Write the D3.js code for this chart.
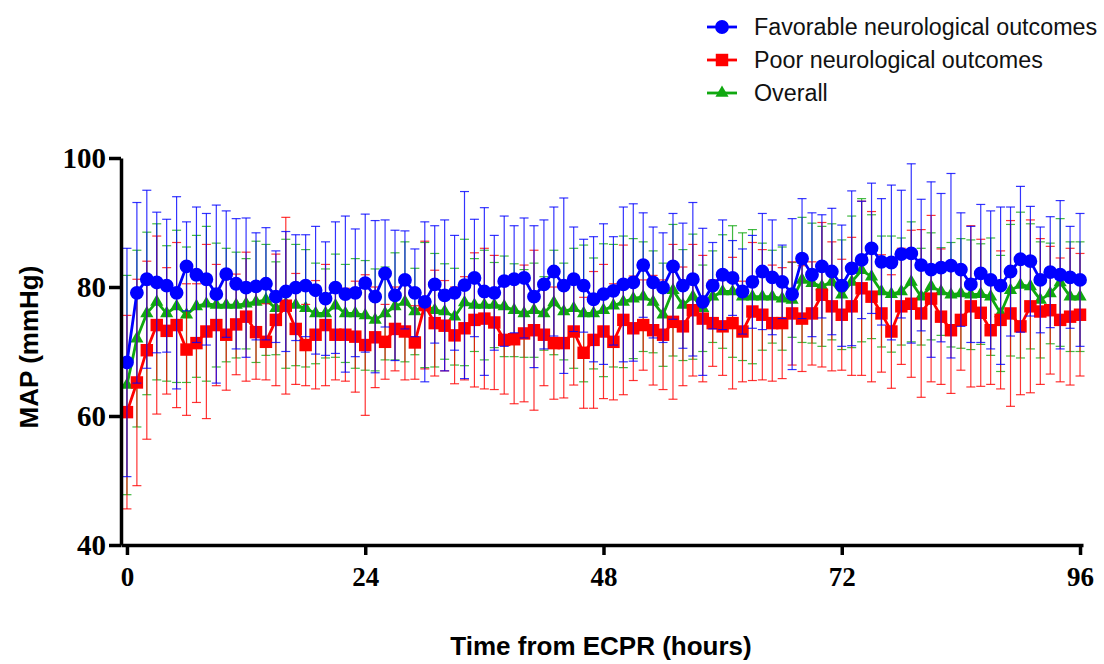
<!DOCTYPE html>
<html>
<head>
<meta charset="utf-8">
<script src="https://cdn.jsdelivr.net/npm/d3@7"></script>
<style>
  body { margin: 0; background: #fff; }
  svg { display: block; }
</style>
</head>
<body>
<svg id="chart" width="1104" height="664"></svg>
<script>
// hours 0..96
const hours = d3.range(0, 97);
const xTicks = [0, 24, 48, 72, 96];
const yTicks = [40, 60, 80, 100];

const seriesNames = ["Favorable neurological outcomes", "Poor neurological outcomes", "Overall"];

const favMean = [68.3, 79.1, 81.2, 80.7, 80.2, 79.1, 83.2, 81.9, 81.2, 78.9, 82.0, 80.5, 79.9, 80.1, 80.5, 78.5, 79.3, 79.9, 80.2, 79.5,
  78.2, 79.9, 78.9, 79.1, 80.6, 78.5, 82.1, 78.7, 81.1, 79.1, 77.7, 80.4, 78.7, 79.1, 80.3, 81.4, 79.3, 79.1, 80.9, 81.2,
  81.4, 78.5, 80.4, 82.4, 80.2, 81.2, 80.2, 78.1, 78.9, 79.4, 80.4, 80.7, 83.4, 80.7, 79.9, 83.2, 80.2, 81.2, 77.7, 80.2,
  81.9, 81.4, 79.3, 80.8, 82.4, 81.5, 80.8, 78.9, 84.4, 81.9, 83.2, 82.4, 80.2, 82.9, 84.2, 86.0, 83.9, 83.8, 85.1, 85.2,
  83.4, 82.7, 83.0, 83.3, 82.7, 80.4, 82.1, 81.1, 80.2, 82.4, 84.3, 84.0, 81.1, 82.3, 81.9, 81.5, 81.1];
const favSD = [17.7, 14.0, 13.8, 10.9, 10.3, 14.9, 6.9, 10.5, 10.2, 13.8, 9.8, 10.1, 10.8, 8.3, 8.7, 7.1, 9.3, 8.2, 7.9, 9.9,
  8.8, 10.2, 12.1, 9.9, 10.7, 11.8, 8.3, 10.1, 7.6, 6.8, 12.4, 9.1, 11.7, 8.9, 14.5, 9.1, 13.0, 8.9, 10.1, 8.3,
  9.3, 11.0, 10.0, 10.0, 13.6, 8.1, 7.2, 9.7, 10.9, 8.4, 12.0, 12.2, 8.1, 8.6, 8.5, 8.2, 9.7, 11.9, 11.4, 6.7,
  8.5, 5.8, 6.6, 7.2, 9.0, 8.9, 5.7, 11.7, 9.3, 9.6, 8.0, 9.8, 9.4, 12.0, 9.1, 10.1, 9.8, 12.0, 9.9, 13.9,
  10.2, 13.6, 11.5, 14.3, 8.8, 9.0, 10.7, 10.7, 12.2, 10.0, 11.3, 8.5, 8.2, 8.6, 11.5, 7.9, 10.3];

const poorMean = [60.6, 65.2, 70.2, 74.1, 73.2, 74.1, 70.3, 71.3, 73.1, 74.1, 72.6, 74.2, 75.4, 73.0, 71.5, 74.9, 77.1, 73.5, 71.0, 72.6,
  74.1, 72.6, 72.6, 72.3, 71.0, 72.2, 71.5, 73.5, 73.1, 71.4, 77.2, 74.4, 74.0, 72.5, 73.6, 74.9, 75.1, 74.5, 71.8, 71.9,
  72.8, 73.3, 72.6, 71.3, 71.3, 73.1, 69.8, 71.8, 73.1, 71.5, 74.9, 73.6, 74.1, 73.3, 72.6, 74.6, 73.9, 76.4, 75.1, 74.4,
  73.9, 74.4, 73.1, 76.2, 75.7, 74.4, 74.4, 75.9, 75.1, 75.9, 78.8, 77.0, 75.7, 77.0, 79.8, 78.5, 75.9, 73.1, 77.0, 77.4,
  75.9, 78.2, 75.4, 73.3, 74.9, 77.0, 76.0, 73.3, 74.9, 75.9, 73.9, 77.0, 76.2, 76.4, 74.9, 75.4, 75.7];
const poorSD = [15.0, 16.0, 13.8, 13.8, 9.8, 12.8, 10.2, 9.2, 13.5, 9.4, 8.6, 7.8, 10.0, 7.3, 5.9, 10.2, 13.7, 8.6, 6.3, 8.4,
  9.4, 7.0, 7.2, 8.6, 10.9, 7.8, 5.8, 6.5, 7.5, 5.7, 9.9, 8.2, 7.0, 7.5, 8.0, 10.4, 10.9, 10.4, 8.4, 10.0,
  10.6, 12.4, 7.9, 8.7, 8.5, 8.3, 8.6, 10.6, 10.4, 9.0, 11.6, 8.1, 7.0, 8.5, 8.5, 12.0, 9.2, 10.2, 9.8, 6.7,
  7.6, 10.2, 7.8, 10.7, 10.1, 9.0, 8.6, 8.0, 8.2, 8.0, 11.2, 10.0, 8.6, 10.7, 13.5, 13.2, 9.1, 8.8, 9.0, 11.4,
  13.0, 12.9, 10.5, 9.8, 7.8, 12.5, 11.4, 8.4, 10.7, 14.4, 10.6, 13.4, 11.3, 9.9, 9.6, 10.6, 9.5];

const allMean = [64.8, 72.0, 75.9, 77.7, 75.9, 77.0, 75.7, 77.0, 77.4, 77.2, 77.2, 77.2, 77.4, 77.7, 78.0, 76.7, 77.4, 77.2, 76.7, 75.9,
  75.9, 77.1, 75.9, 75.9, 75.6, 74.9, 75.9, 77.0, 77.7, 76.2, 77.2, 76.4, 76.2, 75.4, 77.6, 77.2, 77.2, 77.2, 77.0, 76.4,
  75.9, 76.4, 75.9, 77.6, 76.2, 76.7, 75.9, 75.9, 76.4, 77.1, 77.7, 78.2, 78.5, 77.7, 75.7, 79.5, 77.2, 78.5, 76.7, 78.5,
  79.3, 79.3, 78.5, 78.5, 78.5, 78.5, 78.2, 78.0, 81.1, 80.6, 80.1, 80.8, 78.8, 80.8, 82.6, 81.6, 79.3, 78.9, 79.3, 80.8,
  78.5, 80.1, 79.3, 78.8, 79.0, 78.8, 78.9, 78.5, 75.9, 79.5, 80.3, 80.1, 78.0, 79.0, 80.7, 78.5, 78.5];
const allSD = [17.0, 13.7, 12.6, 12.1, 10.5, 11.8, 10.5, 11.0, 12.0, 9.6, 8.8, 8.2, 7.0, 9.4, 8.6, 7.2, 10.0, 9.4, 9.1, 7.8,
  6.9, 8.0, 7.6, 8.5, 8.5, 7.9, 7.2, 8.3, 9.3, 6.7, 9.7, 8.8, 7.4, 7.5, 9.8, 7.2, 8.5, 6.6, 7.8, 7.2,
  6.8, 7.3, 5.7, 8.1, 7.5, 9.3, 10.6, 8.6, 10.3, 9.5, 10.2, 9.3, 8.5, 7.9, 8.0, 10.2, 8.6, 9.7, 6.7, 7.1,
  8.8, 10.2, 9.9, 10.4, 8.3, 7.2, 8.0, 5.8, 9.7, 9.3, 9.3, 9.0, 8.5, 10.2, 11.1, 9.6, 8.6, 9.0, 8.3, 9.3,
  7.5, 8.3, 6.8, 8.1, 8.5, 8.5, 7.8, 9.1, 9.0, 10.2, 11.3, 9.7, 9.0, 7.8, 9.9, 8.5, 8.5];

const series = [
  { name: seriesNames[0], mean: favMean, sd: favSD, color: "#0000ff", shape: d3.symbolCircle, size: 150 },
  { name: seriesNames[1], mean: poorMean, sd: poorSD, color: "#ff0000", shape: d3.symbolSquare, size: 155 },
  { name: seriesNames[2], mean: allMean, sd: allSD, color: "#10a810", shape: d3.symbolTriangle, size: 75 }
];

const svg = d3.select("#chart");

const x = d3.scaleLinear().domain([-0.6, 96.3]).range([121, 1083]);
const y = d3.scaleLinear().domain([40, 100]).range([545, 158]);

// draw Overall first, Favorable last (on top)
const drawOrder = [2, 1, 0];
drawOrder.forEach(i => {
  const s = series[i];
  const g = svg.append("g");
  const pts = hours.map((h, k) => ({ h: h, m: s.mean[k], sd: s.sd[k] }));

  // error bars
  const eb = g.append("g")
    .attr("stroke", s.color)
    .attr("stroke-width", 1.2)
    .attr("stroke-opacity", 0.8);
  eb.selectAll(".v").data(pts).enter().append("line")
    .attr("x1", d => x(d.h)).attr("x2", d => x(d.h))
    .attr("y1", d => y(d.m + d.sd)).attr("y2", d => y(d.m - d.sd));
  eb.selectAll(".t").data(pts).enter().append("line")
    .attr("x1", d => x(d.h) - 4.5).attr("x2", d => x(d.h) + 4.5)
    .attr("y1", d => y(d.m + d.sd)).attr("y2", d => y(d.m + d.sd));
  eb.selectAll(".b").data(pts).enter().append("line")
    .attr("x1", d => x(d.h) - 4.5).attr("x2", d => x(d.h) + 4.5)
    .attr("y1", d => y(d.m - d.sd)).attr("y2", d => y(d.m - d.sd));

  // mean line
  g.append("path")
    .datum(pts)
    .attr("fill", "none")
    .attr("stroke", s.color)
    .attr("stroke-width", 2.8)
    .attr("d", d3.line().x(d => x(d.h)).y(d => y(d.m)));

  // markers
  g.selectAll(".pt").data(pts).enter().append("path")
    .attr("transform", d => `translate(${x(d.h)},${y(d.m)})`)
    .attr("d", d3.symbol().type(s.shape).size(s.size))
    .attr("fill", s.color);
});

// Y axis
const yAxis = svg.append("g")
  .attr("transform", "translate(121,0)")
  .call(d3.axisLeft(y).tickValues(yTicks).tickSize(12).tickSizeOuter(0).tickPadding(3));
yAxis.select(".domain").attr("stroke-width", 3.5);
yAxis.selectAll(".tick line").attr("stroke-width", 3.5);
yAxis.selectAll("text")
  .style("font-family", "'Liberation Serif', 'Times New Roman', serif")
  .style("font-weight", "bold")
  .style("font-size", "29px")
  .attr("fill", "#000");

// X axis
const xAxis = svg.append("g")
  .attr("transform", "translate(0,545)")
  .call(d3.axisBottom(x).tickValues(xTicks).tickSize(10).tickSizeOuter(0).tickPadding(12));
xAxis.select(".domain").attr("stroke-width", 3.5);
xAxis.selectAll(".tick line").attr("stroke-width", 3.5);
xAxis.selectAll("text")
  .style("font-family", "'Liberation Serif', 'Times New Roman', serif")
  .style("font-weight", "bold")
  .style("font-size", "27px")
  .attr("fill", "#000");

// Axis titles
svg.append("text")
  .attr("x", 601)
  .attr("y", 655)
  .attr("text-anchor", "middle")
  .style("font-family", "'Liberation Sans', Arial, sans-serif")
  .style("font-weight", "bold")
  .style("font-size", "26px")
  .text("Time from ECPR (hours)");

svg.append("text")
  .attr("transform", "translate(38,347) rotate(-90)")
  .attr("text-anchor", "middle")
  .style("font-family", "'Liberation Sans', Arial, sans-serif")
  .style("font-weight", "bold")
  .style("font-size", "26px")
  .text("MAP (mmHg)");

// Legend
const legend = svg.append("g");
const legendY = [27, 60, 93];
series.forEach((s, i) => {
  const row = legend.append("g").attr("transform", `translate(0,${legendY[i]})`);
  row.append("line")
    .attr("x1", 707).attr("x2", 737)
    .attr("stroke", s.color).attr("stroke-width", 2.8);
  row.append("path")
    .attr("transform", "translate(722,0)")
    .attr("d", d3.symbol().type(s.shape).size(s.size))
    .attr("fill", s.color);
  row.append("text")
    .attr("x", 754)
    .attr("y", 8)
    .style("font-family", "'Liberation Sans', Arial, sans-serif")
    .style("font-size", "23.3px")
    .attr("fill", "#111")
    .text(s.name);
});
</script>
</body>
</html>
